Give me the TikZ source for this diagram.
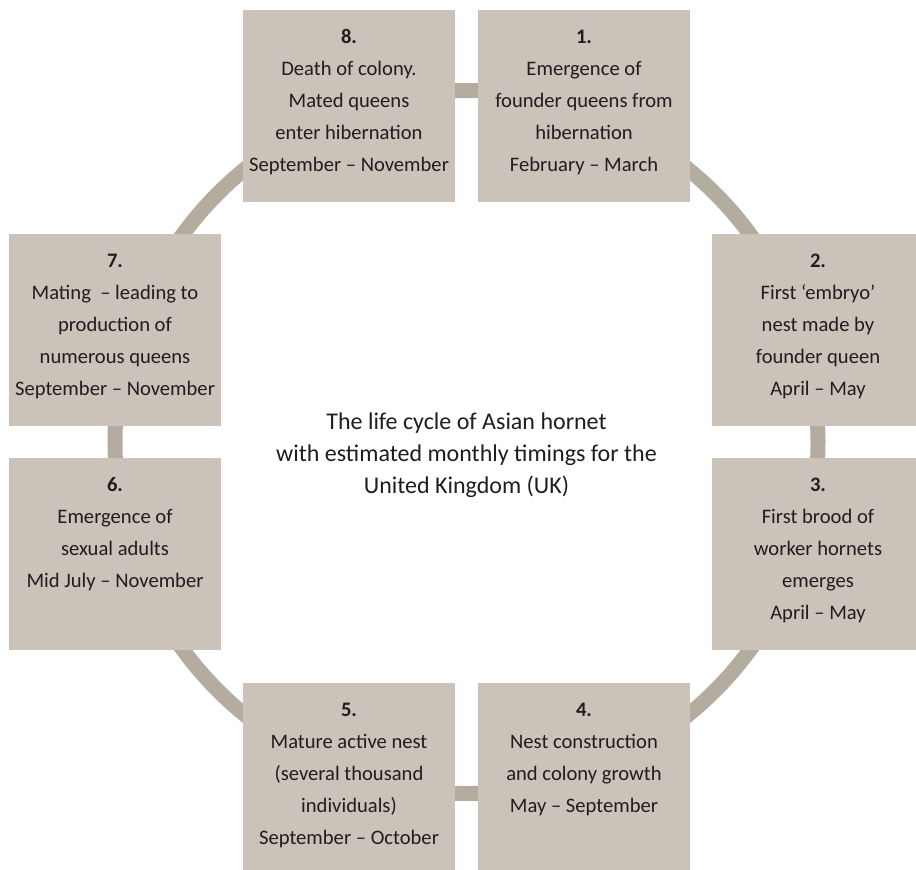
\documentclass[tikz,border=0pt]{standalone}
\usepackage{fontspec}
\setmainfont{Carlito}
\usepackage{tikz}
\definecolor{hornetbox}{HTML}{CBC2B9}
\definecolor{hornetring}{HTML}{B5ACA0}
\definecolor{hornettext}{HTML}{1E1E1E}

\begin{document}
\begin{tikzpicture}[x=1pt,y=-1pt,
  stagebox/.style={fill=hornetbox, minimum width=212pt, minimum height=192pt, inner sep=0pt, outer sep=0pt},
  stagetext/.style={anchor=north, yshift=-10.6pt, align=center, inner sep=0pt, text=hornettext, font=\fontsize{20.6}{32}\selectfont},
  titletext/.style={align=center, inner sep=0pt, text=hornettext, font=\fontsize{24}{32}\selectfont}]

 \useasboundingbox (0,0) rectangle (916,870);
 \clip (0,0) rectangle (916,870);

 \coordinate (mid) at (466.5,442);
 \draw[hornetring, line width=15pt] (mid) circle [radius=351.5pt];

 \node[stagebox] (b1) at (584,106) {};
 \node[stagebox] (b2) at (818,330) {};
 \node[stagebox] (b3) at (818,554) {};
 \node[stagebox] (b4) at (584,779) {};
 \node[stagebox] (b5) at (349,779) {};
 \node[stagebox] (b6) at (115,554) {};
 \node[stagebox] (b7) at (115,330) {};
 \node[stagebox] (b8) at (349,106) {};

 \node[stagetext] (t1) at (b1.north) {\strut\textbf{1.}\\Emergence of\\founder queens from\\hibernation\\February – March};
 \node[stagetext] (t2) at (b2.north) {\strut\textbf{2.}\\First ‘embryo’\\nest made by\\founder queen\\April – May};
 \node[stagetext] (t3) at (b3.north) {\strut\textbf{3.}\\First brood of\\worker hornets\\emerges\\April – May};
 \node[stagetext] (t4) at (b4.north) {\strut\textbf{4.}\\Nest construction\\and colony growth\\May – September};
 \node[stagetext] (t5) at (b5.north) {\strut\textbf{5.}\\Mature active nest\\(several thousand\\individuals)\\September – October};
 \node[stagetext] (t6) at (b6.north) {\strut\textbf{6.}\\Emergence of\\sexual adults\\Mid July – November};
 \node[stagetext] (t7) at (b7.north) {\strut\textbf{7.}\\Mating\ \ – leading to\\production of\\numerous queens\\September – November};
 \node[stagetext] (t8) at (b8.north) {\strut\textbf{8.}\\Death of colony.\\Mated queens\\enter hibernation\\September – November};

 \node[titletext] (title) at (466.5,454.6) {\strut The life cycle of Asian hornet\\\strut with estimated monthly timings for the\\\strut United Kingdom (UK)};

\end{tikzpicture}
\end{document}
